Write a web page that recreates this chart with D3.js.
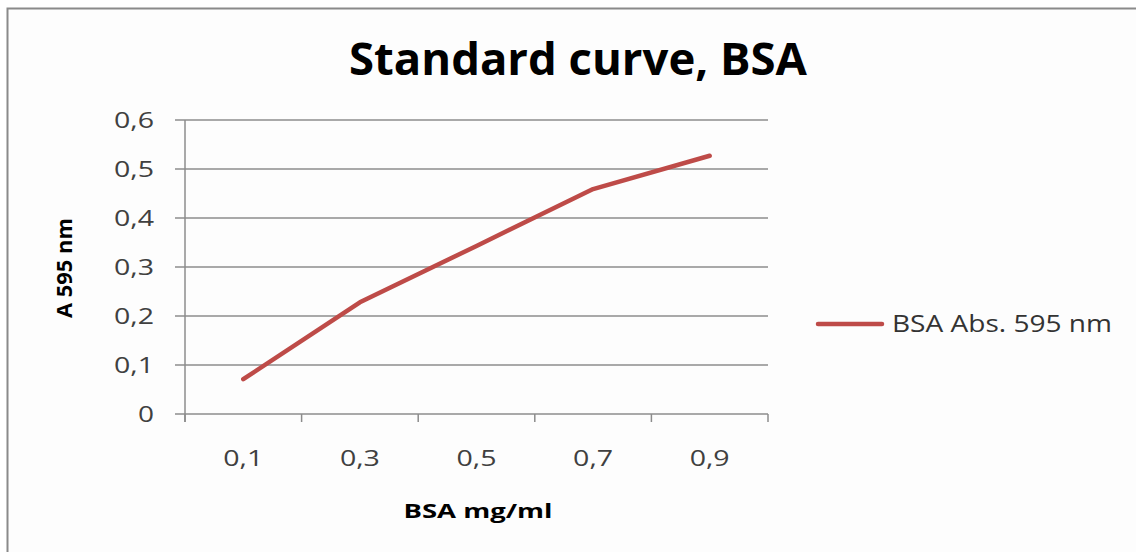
<!DOCTYPE html>
<html>
<head>
<meta charset="utf-8">
<script src="https://cdn.jsdelivr.net/npm/d3@7"></script>
<style>
  body { margin: 0; background: #fff; }
  #chart { width: 1136px; height: 552px; }
  text { font-family: "Open Sans", "Noto Sans", sans-serif; }
</style>
</head>
<body>
<div id="chart"></div>
<script>
const width = 1136;
const height = 552;

// data
const concentrations = ["0,1", "0,3", "0,5", "0,7", "0,9"];
const absorbance = [0.071, 0.228, 0.343, 0.459, 0.527];
const yTicks = [0, 0.1, 0.2, 0.3, 0.4, 0.5, 0.6];
const seriesName = "BSA Abs. 595 nm";

const margin = { left: 185, right: 368, top: 120, bottom: 138 };

const svg = d3.select("#chart")
    .append("svg")
    .attr("width", width)
    .attr("height", height);

// chart area frame
svg.append("rect")
    .attr("x", 7.5)
    .attr("y", 8.5)
    .attr("width", width + 10)
    .attr("height", height + 10)
    .attr("fill", "#fdfdfd")
    .attr("stroke", "#8a8a8a")
    .attr("stroke-width", 2);

const x = d3.scaleBand()
    .domain(concentrations)
    .range([margin.left, width - margin.right])
    .padding(0);

const y = d3.scaleLinear()
    .domain([0, 0.6])
    .range([height - margin.bottom, margin.top]);

const fmt = d => d === 0 ? "0" : d3.format(".1f")(d).replace(".", ",");

// gridlines + y ticks
svg.append("g")
    .selectAll("line")
    .data(yTicks)
    .join("line")
    .attr("x1", margin.left - 10)
    .attr("x2", width - margin.right)
    .attr("y1", d => y(d))
    .attr("y2", d => y(d))
    .attr("stroke", "#8c8c8c")
    .attr("stroke-width", 1.5);

// the source picture is stretched sideways, so labels get a wider textLength
svg.append("g")
    .selectAll("text")
    .data(yTicks)
    .join("text")
    .attr("x", margin.left - 31)
    .attr("y", d => y(d))
    .attr("dy", "0.36em")
    .attr("text-anchor", "end")
    .attr("font-size", 21)
    .attr("fill", "#404040")
    .attr("textLength", d => d === 0 ? 16 : 40)
    .attr("lengthAdjust", "spacingAndGlyphs")
    .text(fmt);

// y axis line
svg.append("line")
    .attr("x1", margin.left).attr("x2", margin.left)
    .attr("y1", y(0.6)).attr("y2", y(0) + 8)
    .attr("stroke", "#8c8c8c")
    .attr("stroke-width", 1.5);

// x category boundary ticks
const edges = concentrations.map(c => x(c)).concat([x.range()[1]]);
svg.append("g")
    .selectAll("line")
    .data(edges)
    .join("line")
    .attr("x1", d => d).attr("x2", d => d)
    .attr("y1", y(0)).attr("y2", y(0) + 8)
    .attr("stroke", "#8c8c8c")
    .attr("stroke-width", 1.5);

svg.append("g")
    .selectAll("text")
    .data(concentrations)
    .join("text")
    .attr("x", d => x(d) + x.bandwidth() / 2)
    .attr("y", y(0) + 52)
    .attr("text-anchor", "middle")
    .attr("font-size", 21)
    .attr("fill", "#404040")
    .attr("textLength", 40)
    .attr("lengthAdjust", "spacingAndGlyphs")
    .text(d => d);

// series line
const line = d3.line()
    .x((d, i) => x(concentrations[i]) + x.bandwidth() / 2)
    .y(d => y(d));

svg.append("path")
    .datum(absorbance)
    .attr("d", line)
    .attr("fill", "none")
    .attr("stroke", "#be4b48")
    .attr("stroke-width", 4.5)
    .attr("stroke-linecap", "round")
    .attr("stroke-linejoin", "round");

// title
svg.append("text")
    .attr("x", 578)
    .attr("y", 75)
    .attr("text-anchor", "middle")
    .attr("font-size", 45)
    .attr("font-weight", 700)
    .attr("fill", "#000")
    .attr("textLength", 458)
    .attr("lengthAdjust", "spacingAndGlyphs")
    .text("Standard curve, BSA");

// axis titles
svg.append("text")
    .attr("transform", `translate(72, 268) rotate(-90)`)
    .attr("text-anchor", "middle")
    .attr("font-size", 21)
    .attr("font-weight", 700)
    .attr("fill", "#000")
    .attr("textLength", 100)
    .attr("lengthAdjust", "spacingAndGlyphs")
    .text("A 595 nm");

svg.append("text")
    .attr("x", 478)
    .attr("y", 518)
    .attr("text-anchor", "middle")
    .attr("font-size", 20)
    .attr("font-weight", 700)
    .attr("fill", "#000")
    .attr("textLength", 149)
    .attr("lengthAdjust", "spacingAndGlyphs")
    .text("BSA mg/ml");

// legend
const legend = svg.append("g").attr("transform", "translate(818, 324)");
legend.append("line")
    .attr("x1", 0).attr("x2", 64)
    .attr("stroke", "#be4b48")
    .attr("stroke-width", 4.5)
    .attr("stroke-linecap", "round");
legend.append("text")
    .attr("x", 74)
    .attr("dy", "0.36em")
    .attr("font-size", 23)
    .attr("fill", "#333")
    .attr("textLength", 220)
    .attr("lengthAdjust", "spacingAndGlyphs")
    .text(seriesName);
</script>
</body>
</html>
